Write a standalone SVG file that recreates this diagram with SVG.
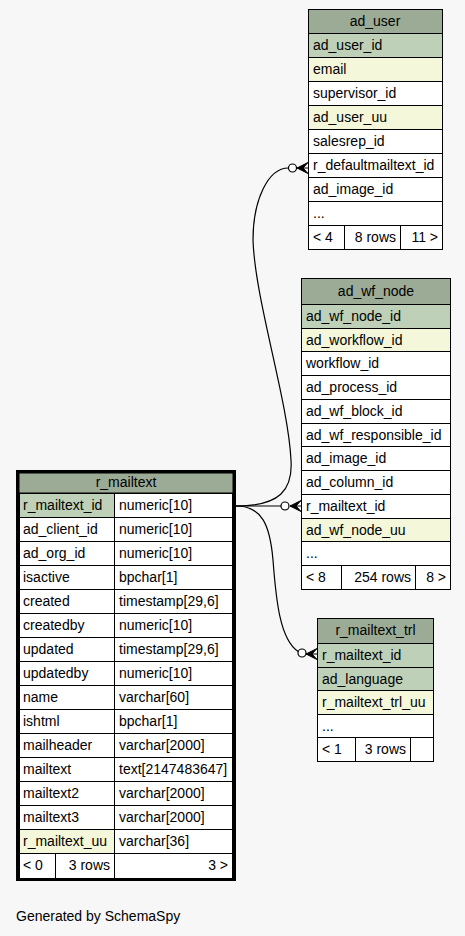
<svg xmlns="http://www.w3.org/2000/svg" width="465" height="936" viewBox="0 0 465 936">
<style>
text{font-family:"Liberation Sans",Arial,sans-serif;font-size:14px;fill:#000}
.c{fill:#fff;stroke:#000;stroke-width:1}
.h{fill:#9bab96;stroke:#000;stroke-width:1}
.p{fill:#bed1b8;stroke:#000;stroke-width:1}
.i{fill:#f4f7da;stroke:#000;stroke-width:1}
.m{text-anchor:middle}
.r{text-anchor:end}
.e{fill:none;stroke:#000;stroke-width:1.2}
.o{fill:#fff;stroke:#000;stroke-width:1.2}
.k{fill:#000;stroke:#000;stroke-width:1}
</style>
<rect width="465" height="936" fill="#f7f7f7"/>
<g id="connectors">
<path class="e" d="M236,506 C280,506 293,490 291,460 C288,400 255,300 253,240 C253,200 268,168 288.5,168"/>
<circle class="o" cx="292.5" cy="168" r="4"/>
<path class="k" d="M297,168 L308,162.5 L303,168 L308,173.5 Z M297,168 L308,168"/>
<path class="e" d="M236,506 L281,506"/>
<circle class="o" cx="285" cy="506" r="4"/>
<path class="k" d="M290,506 L301,500.5 L296,506 L301,511.5 Z M290,506 L301,506"/>
<path class="e" d="M236,506 C262,506 270,525 273,560 C276,600 280,640 298.2,651.5"/>
<circle class="o" cx="302" cy="653" r="4"/>
<path class="k" d="M306,654 L317,648.5 L312,654 L317,659.5 Z M306,654 L317,654"/>
</g>
<g id="ad_user">
<rect class="h" x="308.5" y="9.5" width="134" height="24"/>
<text class="m" x="375" y="26">ad_user</text>
<rect class="p" x="308.5" y="33.5" width="134" height="24"/><text x="313" y="50">ad_user_id</text>
<rect class="i" x="308.5" y="57.5" width="134" height="24"/><text x="313" y="74">email</text>
<rect class="c" x="308.5" y="81.5" width="134" height="24"/><text x="313" y="98">supervisor_id</text>
<rect class="i" x="308.5" y="105.5" width="134" height="24"/><text x="313" y="122">ad_user_uu</text>
<rect class="c" x="308.5" y="129.5" width="134" height="24"/><text x="313" y="146">salesrep_id</text>
<rect class="c" x="308.5" y="153.5" width="134" height="24"/><text x="313" y="170">r_defaultmailtext_id</text>
<rect class="c" x="308.5" y="177.5" width="134" height="24"/><text x="313" y="194">ad_image_id</text>
<rect class="c" x="308.5" y="201.5" width="134" height="24"/><text x="313" y="218">...</text>
<rect class="c" x="308.5" y="225.5" width="36" height="24"/><text x="313" y="242">&lt; 4</text>
<rect class="c" x="344.5" y="225.5" width="56" height="24"/><text class="r" x="396" y="242">8 rows</text>
<rect class="c" x="400.5" y="225.5" width="42" height="24"/><text class="r" x="438" y="242">11 &gt;</text>
</g>
<g id="ad_wf_node">
<rect class="h" x="301.5" y="278.5" width="149" height="26"/>
<text class="m" x="376" y="295.5">ad_wf_node</text>
<rect class="p" x="301.5" y="304.5" width="149" height="24"/><text x="306" y="321">ad_wf_node_id</text>
<rect class="i" x="301.5" y="328.5" width="149" height="23"/><text x="306" y="345">ad_workflow_id</text>
<rect class="c" x="301.5" y="351.5" width="149" height="24"/><text x="306" y="368">workflow_id</text>
<rect class="c" x="301.5" y="375.5" width="149" height="24"/><text x="306" y="392">ad_process_id</text>
<rect class="c" x="301.5" y="399.5" width="149" height="24"/><text x="306" y="416">ad_wf_block_id</text>
<rect class="c" x="301.5" y="423.5" width="149" height="23"/><text x="306" y="440">ad_wf_responsible_id</text>
<rect class="c" x="301.5" y="446.5" width="149" height="24"/><text x="306" y="463">ad_image_id</text>
<rect class="c" x="301.5" y="470.5" width="149" height="24"/><text x="306" y="487">ad_column_id</text>
<rect class="c" x="301.5" y="494.5" width="149" height="24"/><text x="306" y="511">r_mailtext_id</text>
<rect class="i" x="301.5" y="518.5" width="149" height="23"/><text x="306" y="535">ad_wf_node_uu</text>
<rect class="c" x="301.5" y="541.5" width="149" height="24"/><text x="306" y="558">...</text>
<rect class="c" x="301.5" y="565.5" width="40" height="24"/><text x="306" y="582">&lt; 8</text>
<rect class="c" x="341.5" y="565.5" width="74" height="24"/><text class="r" x="411" y="582">254 rows</text>
<rect class="c" x="415.5" y="565.5" width="35" height="24"/><text class="r" x="446" y="582">8 &gt;</text>
</g>
<g id="r_mailtext">
<rect class="h" x="19" y="473" width="214" height="20" stroke="none"/>
<text class="m" x="126" y="487">r_mailtext</text>
<rect class="p" x="19.5" y="493.5" width="95" height="24"/><rect class="c" x="114.5" y="493.5" width="118" height="24"/>
<text x="23" y="510">r_mailtext_id</text><text x="119" y="510">numeric[10]</text>
<rect class="c" x="19.5" y="517.5" width="95" height="24"/><rect class="c" x="114.5" y="517.5" width="118" height="24"/>
<text x="23" y="534">ad_client_id</text><text x="119" y="534">numeric[10]</text>
<rect class="c" x="19.5" y="541.5" width="95" height="24"/><rect class="c" x="114.5" y="541.5" width="118" height="24"/>
<text x="23" y="558">ad_org_id</text><text x="119" y="558">numeric[10]</text>
<rect class="c" x="19.5" y="565.5" width="95" height="24"/><rect class="c" x="114.5" y="565.5" width="118" height="24"/>
<text x="23" y="582">isactive</text><text x="119" y="582">bpchar[1]</text>
<rect class="c" x="19.5" y="589.5" width="95" height="24"/><rect class="c" x="114.5" y="589.5" width="118" height="24"/>
<text x="23" y="606">created</text><text x="119" y="606">timestamp[29,6]</text>
<rect class="c" x="19.5" y="613.5" width="95" height="24"/><rect class="c" x="114.5" y="613.5" width="118" height="24"/>
<text x="23" y="630">createdby</text><text x="119" y="630">numeric[10]</text>
<rect class="c" x="19.5" y="637.5" width="95" height="24"/><rect class="c" x="114.5" y="637.5" width="118" height="24"/>
<text x="23" y="654">updated</text><text x="119" y="654">timestamp[29,6]</text>
<rect class="c" x="19.5" y="661.5" width="95" height="24"/><rect class="c" x="114.5" y="661.5" width="118" height="24"/>
<text x="23" y="678">updatedby</text><text x="119" y="678">numeric[10]</text>
<rect class="c" x="19.5" y="685.5" width="95" height="24"/><rect class="c" x="114.5" y="685.5" width="118" height="24"/>
<text x="23" y="702">name</text><text x="119" y="702">varchar[60]</text>
<rect class="c" x="19.5" y="709.5" width="95" height="24"/><rect class="c" x="114.5" y="709.5" width="118" height="24"/>
<text x="23" y="726">ishtml</text><text x="119" y="726">bpchar[1]</text>
<rect class="c" x="19.5" y="733.5" width="95" height="24"/><rect class="c" x="114.5" y="733.5" width="118" height="24"/>
<text x="23" y="750">mailheader</text><text x="119" y="750">varchar[2000]</text>
<rect class="c" x="19.5" y="757.5" width="95" height="24"/><rect class="c" x="114.5" y="757.5" width="118" height="24"/>
<text x="23" y="774">mailtext</text><text x="119" y="774">text[2147483647]</text>
<rect class="c" x="19.5" y="781.5" width="95" height="24"/><rect class="c" x="114.5" y="781.5" width="118" height="24"/>
<text x="23" y="798">mailtext2</text><text x="119" y="798">varchar[2000]</text>
<rect class="c" x="19.5" y="805.5" width="95" height="24"/><rect class="c" x="114.5" y="805.5" width="118" height="24"/>
<text x="23" y="822">mailtext3</text><text x="119" y="822">varchar[2000]</text>
<rect class="i" x="19.5" y="829.5" width="95" height="24"/><rect class="c" x="114.5" y="829.5" width="118" height="24"/>
<text x="23" y="846">r_mailtext_uu</text><text x="119" y="846">varchar[36]</text>
<rect class="c" x="19.5" y="853.5" width="36" height="25"/><rect class="c" x="55.5" y="853.5" width="59" height="25"/><rect class="c" x="114.5" y="853.5" width="118" height="25"/>
<text x="23" y="870">&lt; 0</text><text class="r" x="110" y="870">3 rows</text><text class="r" x="228" y="870">3 &gt;</text>
<rect x="17.5" y="471.5" width="217" height="408" fill="none" stroke="#000" stroke-width="3"/>
</g>
<g id="r_mailtext_trl">
<rect class="h" x="317.5" y="618.5" width="116" height="25"/>
<text class="m" x="375.5" y="635">r_mailtext_trl</text>
<rect class="p" x="317.5" y="643.5" width="116" height="24"/><text x="322" y="660">r_mailtext_id</text>
<rect class="p" x="317.5" y="667.5" width="116" height="23"/><text x="322" y="684">ad_language</text>
<rect class="i" x="317.5" y="690.5" width="116" height="24"/><text x="322" y="707">r_mailtext_trl_uu</text>
<rect class="c" x="317.5" y="714.5" width="116" height="23"/><text x="322" y="731">...</text>
<rect class="c" x="317.5" y="737.5" width="38" height="24"/><text x="322" y="754">&lt; 1</text>
<rect class="c" x="355.5" y="737.5" width="55" height="24"/><text class="r" x="406" y="754">3 rows</text>
<rect class="c" x="410.5" y="737.5" width="23" height="24"/>
</g>
<text x="16" y="921">Generated by SchemaSpy</text>
</svg>
